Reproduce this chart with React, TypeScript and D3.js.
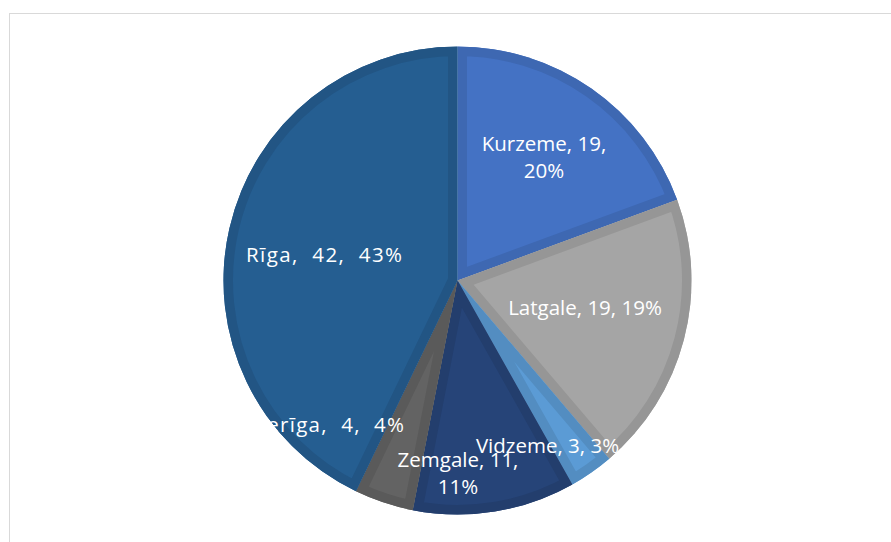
import React from "react";
import * as d3 from "d3";

const categories = ["Kurzeme", "Latgale", "Vidzeme", "Zemgale", "Pierīga", "Rīga"];
const values = [19, 19, 3, 11, 4, 42];
const percentLabels = ["20%", "19%", "3%", "11%", "4%", "43%"];
const colors = ["#4472C4", "#A5A5A5", "#5B9BD5", "#264478", "#636363", "#255E91"];

// label layout: lines and position relative to pie centre (layout, not data)
const labelLayout: {
  lines: (c: string, v: number, p: string) => string[];
  dx: number;
  dy: number;
  len?: number;
}[] = [
  { lines: (c, v, p) => [`${c}, ${v},`, p], dx: 86.5, dy: -124 },
  { lines: (c, v, p) => [`${c}, ${v}, ${p}`], dx: 127.5, dy: 26 },
  { lines: (c, v, p) => [`${c}, ${v}, ${p}`], dx: 90, dy: 164.5 },
  { lines: (c, v, p) => [`${c}, ${v},`, p], dx: 0.5, dy: 192 },
  { lines: (c, v, p) => [`${c},  ${v},  ${p}`], dx: -132, dy: 143.5, len: 157 },
  { lines: (c, v, p) => [`${c},  ${v},  ${p}`], dx: -133.5, dy: -26.5, len: 156 },
];

const W = 891;
const H = 542;
const cx = 457.5;
const cy = 280.5;
const R = 234;
const band = 9.5;

export default function App() {
  const pie = d3.pie<number>().sort(null).value((d) => d);
  const arcs = pie(values);
  const arc = d3.arc<d3.PieArcDatum<number>>().innerRadius(0).outerRadius(R);
  const lineH = 27;

  return (
    <svg
      width={W}
      height={H}
      style={{ position: "absolute", left: 0, top: 0, background: "#fff" }}
      fontFamily="'Open Sans', sans-serif"
    >
      <rect x={9.5} y={13.5} width={W} height={H} fill="#fff" stroke="#d9d9d9" strokeWidth={1} />
      <defs>
        {arcs.map((a, i) => (
          <clipPath id={`clip${i}`} key={i}>
            <path d={arc(a) || ""} />
          </clipPath>
        ))}
      </defs>
      <g transform={`translate(${cx},${cy})`}>
        {arcs.map((a, i) => {
          const d = arc(a) || "";
          const bandColor = d3.color(colors[i])!.darker(0.27).formatHex();
          return (
            <g key={i}>
              <path d={d} fill={colors[i]} />
              <path
                d={d}
                fill="none"
                stroke={bandColor}
                strokeWidth={band * 2}
                clipPath={`url(#clip${i})`}
                strokeLinejoin="miter"
              />
            </g>
          );
        })}
        {arcs.map((a, i) => {
          const L = labelLayout[i];
          const lines = L.lines(categories[i], values[i], percentLabels[i]);
          const y0 = L.dy - ((lines.length - 1) * lineH) / 2;
          return (
            <text
              key={"t" + i}
              x={L.dx}
              y={y0}
              textAnchor="middle"
              dominantBaseline="central"
              fill="#fff"
              fontSize={20.5}
              style={{ whiteSpace: "pre" }}
            >
              {lines.map((s, j) => (
                <tspan
                  key={j}
                  x={L.dx}
                  y={y0 + j * lineH}
                  {...(L.len ? { textLength: L.len, lengthAdjust: "spacing" } : {})}
                >
                  {s}
                </tspan>
              ))}
            </text>
          );
        })}
      </g>
    </svg>
  );
}
